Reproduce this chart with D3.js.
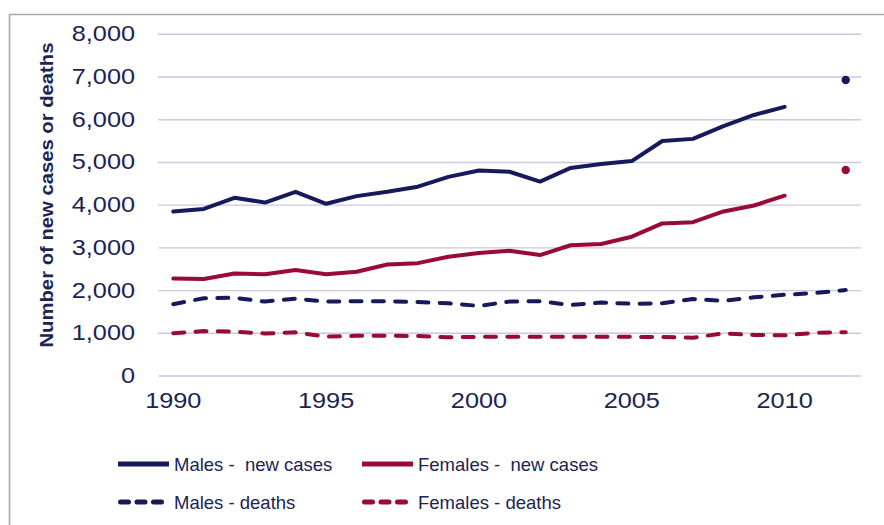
<!DOCTYPE html>
<html>
<head>
<meta charset="utf-8">
<script src="https://cdnjs.cloudflare.com/ajax/libs/d3/7.8.5/d3.min.js"></script>
<style>
  body { margin: 0; background: #fff; }
  svg { display: block; font-family: "Liberation Sans", Arial, sans-serif; }
</style>
</head>
<body>
<script>
var width = 884;
var height = 525;

// data
var years = [1990, 1991, 1992, 1993, 1994, 1995, 1996, 1997, 1998, 1999, 2000,
             2001, 2002, 2003, 2004, 2005, 2006, 2007, 2008, 2009, 2010, 2011, 2012];
var yearLabels = [1990, 1995, 2000, 2005, 2010];
var yTicks = [0, 1000, 2000, 3000, 4000, 5000, 6000, 7000, 8000];

var malesCases = [3840, 3900, 4160, 4050, 4300, 4020, 4200, 4300, 4420, 4650, 4800,
                  4770, 4540, 4860, 4950, 5020, 5490, 5540, 5840, 6100, 6290, null, null];
var femalesCases = [2270, 2260, 2390, 2370, 2470, 2370, 2430, 2600, 2630, 2780, 2870,
                    2920, 2820, 3050, 3080, 3250, 3560, 3590, 3840, 3980, 4210, null, null];
var malesDeaths = [1670, 1810, 1820, 1730, 1800, 1730, 1740, 1740, 1720, 1690, 1630,
                   1730, 1740, 1650, 1710, 1680, 1690, 1790, 1750, 1830, 1890, 1930, 2000];
var femalesDeaths = [990, 1040, 1025, 985, 1010, 910, 930, 930, 925, 895, 905,
                     905, 905, 905, 905, 905, 900, 885, 985, 950, 940, 1000, 1015];

// projected 2012 new cases (single points)
var projYear = 2012;
var malesProj = 6920;
var femalesProj = 4810;

var navy = "#161a5b";
var red = "#9a0a36";
var textColor = "#1b2453";

var series = [
    {name: "Males -  new cases", values: malesCases, color: navy, dash: null},
    {name: "Females -  new cases", values: femalesCases, color: red, dash: null},
    {name: "Males - deaths", values: malesDeaths, color: navy, dash: "11,11.3"},
    {name: "Females - deaths", values: femalesDeaths, color: red, dash: "11,11.3"}
];

var svg = d3.select("body")
    .append("svg")
    .attr("width", width)
    .attr("height", height);

// outer frame (left and top edges only are visible)
svg.append("path")
    .attr("d", "M9.5," + height + "V14.5H" + width)
    .attr("fill", "none")
    .attr("stroke", "#a8a8a8")
    .attr("stroke-width", 1.6);

var x = d3.scaleBand()
    .domain(years)
    .range([158, 861]);

var y = d3.scaleLinear()
    .domain([0, 8000])
    .range([375.5, 33.8]);

function cx(yr) { return x(yr) + x.bandwidth() / 2; }

// y axis with gridlines
var yAxis = svg.append("g")
    .attr("transform", "translate(158,0)")
    .call(d3.axisLeft(y)
        .tickValues(yTicks)
        .tickSize(-(861 - 158))
        .tickFormat(d3.format(",")));
yAxis.select(".domain").remove();
yAxis.selectAll(".tick line")
    .attr("stroke", "#c9c8e0")
    .attr("stroke-width", 1.4);
yAxis.selectAll(".tick text")
    .attr("x", -20)
    .attr("transform", "scale(1.15,1)")
    .style("font-size", "22px")
    .style("font-family", "Liberation Sans, Arial, sans-serif")
    .attr("fill", textColor);

// x axis labels
var xAxis = svg.append("g")
    .attr("transform", "translate(0," + y(0) + ")")
    .call(d3.axisBottom(x)
        .tickValues(yearLabels)
        .tickSize(0)
        .tickPadding(17));
xAxis.select(".domain").remove();
xAxis.selectAll(".tick text")
    .attr("transform", "scale(1.15,1)")
    .style("font-size", "22px")
    .style("font-family", "Liberation Sans, Arial, sans-serif")
    .attr("fill", textColor);

// axis title
svg.append("text")
    .attr("transform", "translate(53,195) rotate(-90)")
    .attr("text-anchor", "middle")
    .attr("textLength", 305)
    .attr("lengthAdjust", "spacingAndGlyphs")
    .style("font-size", "18px")
    .style("font-weight", "bold")
    .attr("fill", textColor)
    .text("Number of new cases or deaths");

// lines
var line = d3.line()
    .defined(function(d) { return d != null; })
    .x(function(d, i) { return cx(years[i]); })
    .y(function(d) { return y(d); });

svg.selectAll("path.series")
    .data(series)
    .enter()
    .append("path")
    .attr("class", "series")
    .attr("d", function(d) { return line(d.values); })
    .attr("fill", "none")
    .attr("stroke", function(d) { return d.color; })
    .attr("stroke-width", 4)
    .attr("stroke-linejoin", "round")
    .attr("stroke-linecap", "round")
    .attr("stroke-dasharray", function(d) { return d.dash; });

// projected points
svg.selectAll("circle.proj")
    .data([{v: malesProj, c: navy}, {v: femalesProj, c: red}])
    .enter()
    .append("circle")
    .attr("class", "proj")
    .attr("cx", cx(projYear))
    .attr("cy", function(d) { return y(d.v); })
    .attr("r", 4.2)
    .attr("fill", function(d) { return d.c; });

// legend
var legendPos = [[118, 464], [362, 464], [118, 502], [362, 502]];
var legend = svg.selectAll("g.legend")
    .data(series)
    .enter()
    .append("g")
    .attr("class", "legend")
    .attr("transform", function(d, i) { return "translate(" + legendPos[i][0] + "," + legendPos[i][1] + ")"; });

legend.append("line")
    .attr("x1", function(d) { return d.dash ? 2.5 : 0; })
    .attr("x2", function(d) { return d.dash ? 44 : 51; })
    .attr("stroke", function(d) { return d.color; })
    .attr("stroke-width", 5)
    .attr("stroke-linecap", function(d) { return d.dash ? "round" : "butt"; })
    .attr("stroke-dasharray", function(d) { return d.dash ? "8,8.5" : null; });

legend.append("text")
    .attr("x", 56)
    .attr("dy", "0.36em")
    .style("font-size", "18.5px")
    .attr("fill", textColor)
    .style("white-space", "pre")
    .attr("xml:space", "preserve")
    .text(function(d) { return d.name; });
</script>
</body>
</html>
